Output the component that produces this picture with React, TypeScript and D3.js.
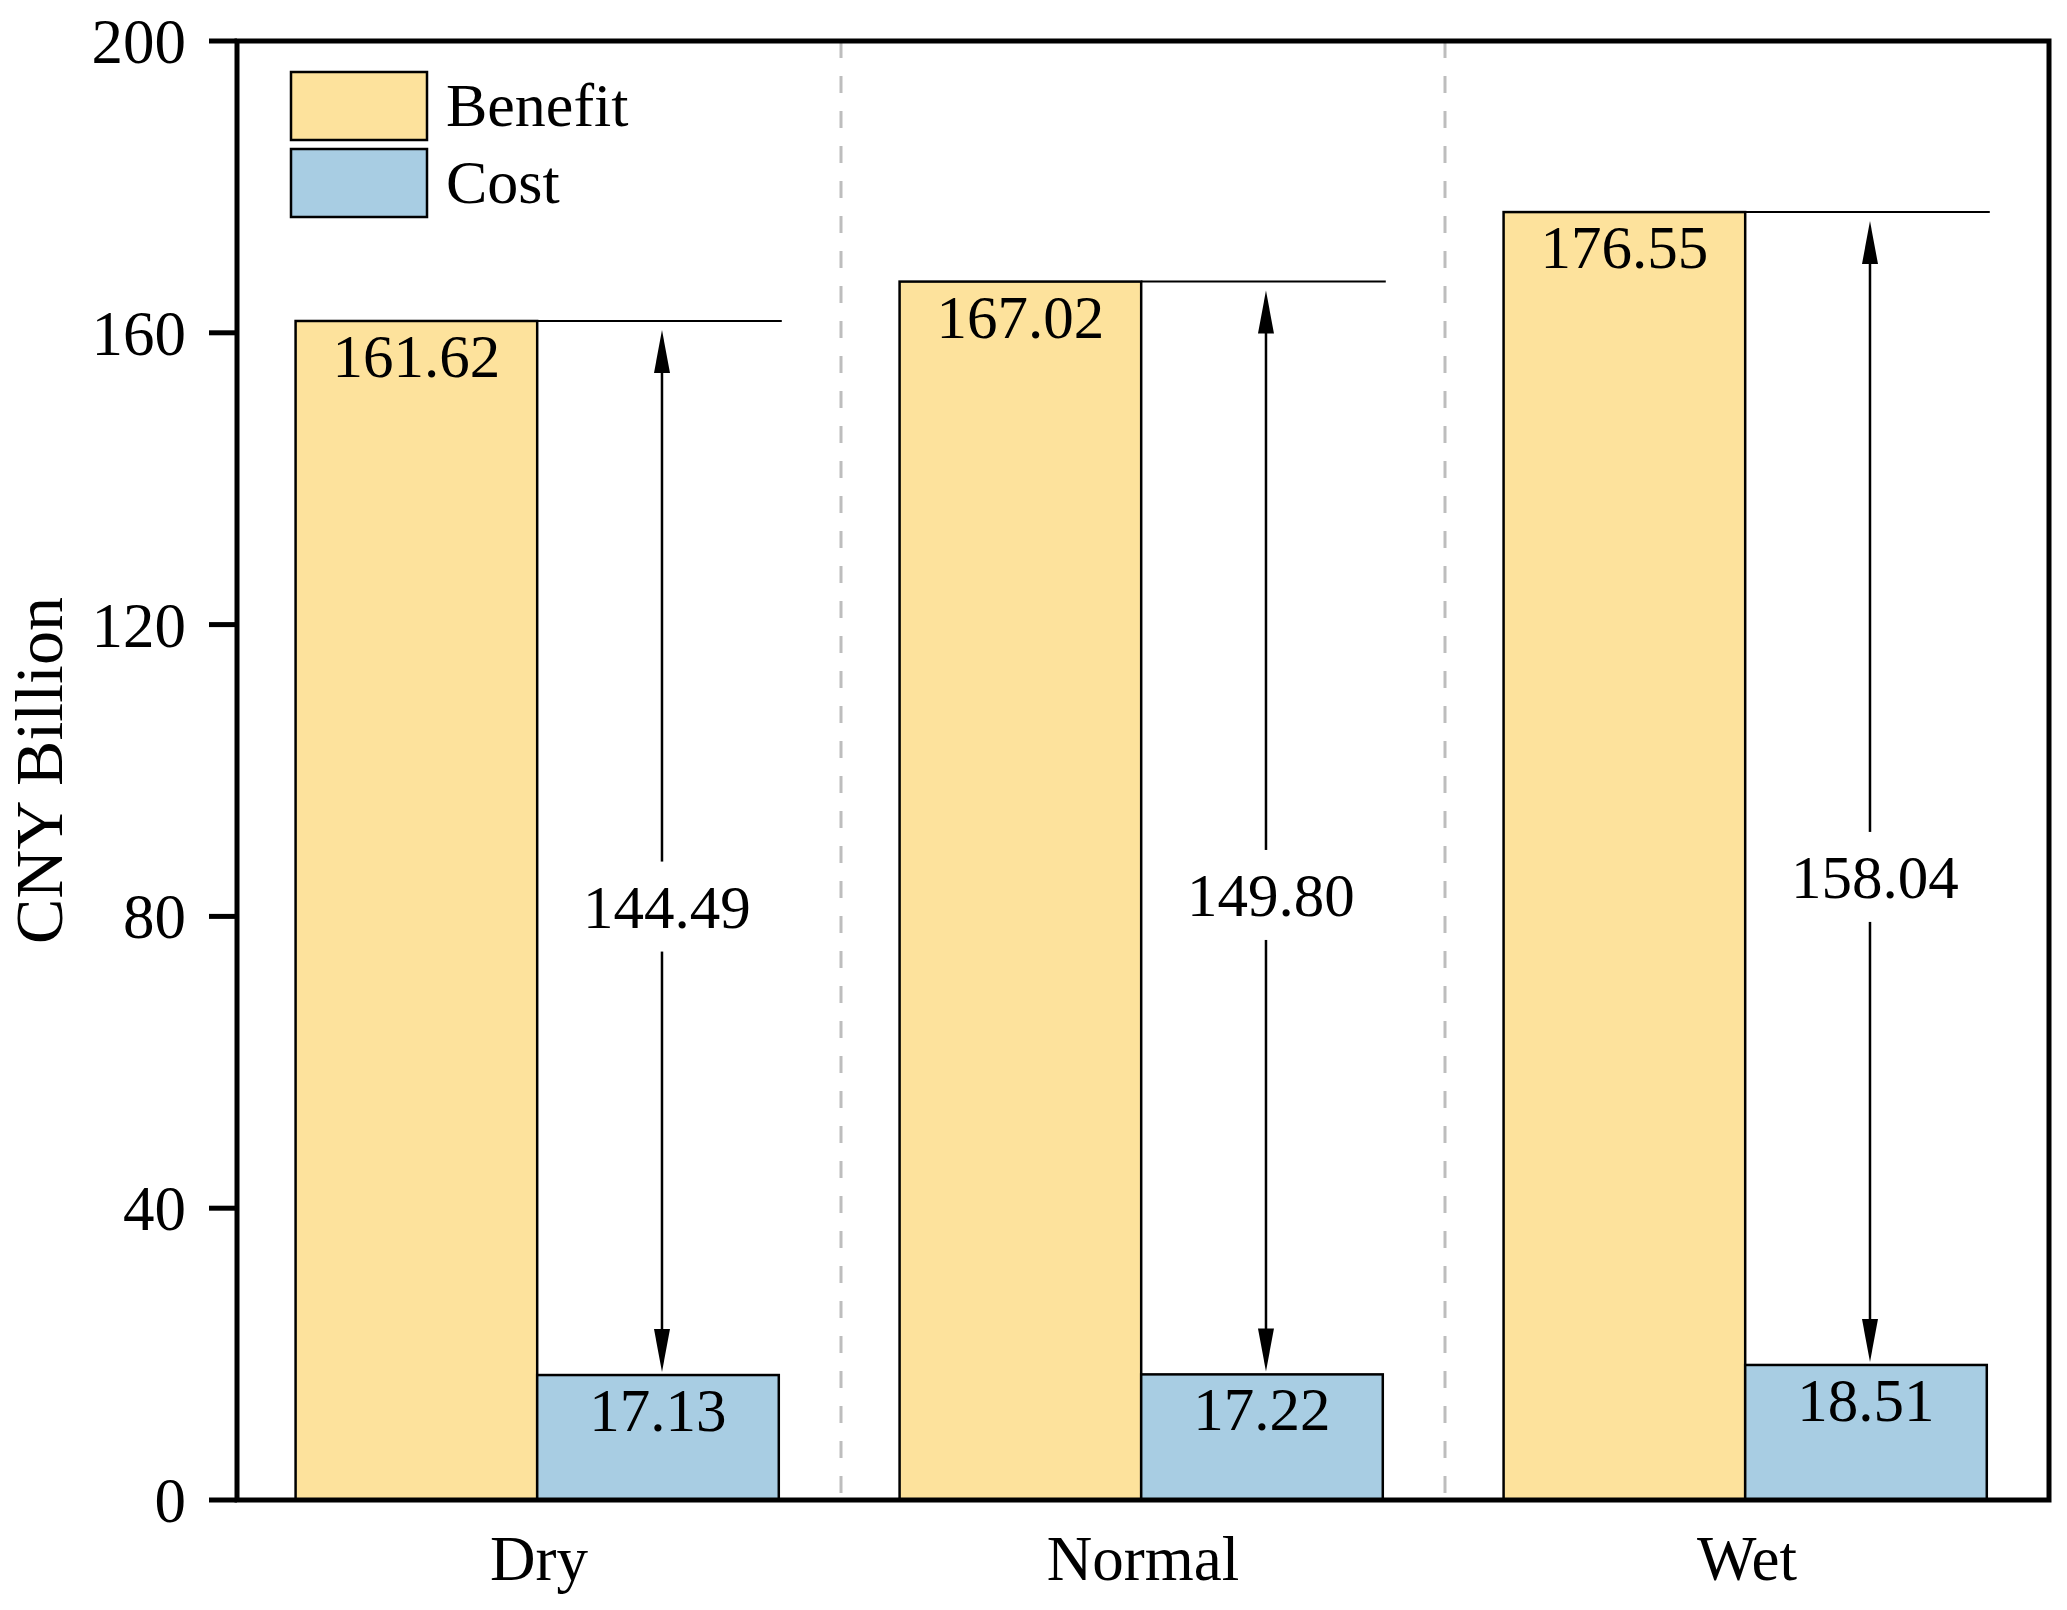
import React from 'react';
import { scaleBand, scaleLinear } from 'd3';

const categories = ['Dry', 'Normal', 'Wet'];
const series = ['Benefit', 'Cost'];
const benefit = [161.62, 167.02, 176.55];
const cost = [17.13, 17.22, 18.51];
const yTicks = [0, 40, 80, 120, 160, 200];

const colors: Record<string, string> = { Benefit: '#fde29c', Cost: '#a8cde3' };

const width = 2067;
const height = 1610;
const margin = { top: 41, right: 18, bottom: 110, left: 237 };
const innerWidth = width - margin.left - margin.right;
const innerHeight = height - margin.top - margin.bottom;
const font = '"Liberation Serif", "Times New Roman", serif';

function App() {
  const xScale = scaleBand().domain(categories).range([0, innerWidth]).padding(0);
  const bw = xScale.bandwidth();
  const sScale = scaleBand().domain(series).range([bw * 0.097, bw * 0.897]).padding(0);
  const yScale = scaleLinear().domain([0, 200]).range([innerHeight, 0]);

  return (
    <svg width={width} height={height} style={{ position: 'absolute', left: 0, top: 0, background: '#fff' }}>
      <g transform={`translate(${margin.left}, ${margin.top})`} fontFamily={font}>
        {/* group separators */}
        {categories.slice(1).map(c => (
          <line key={c} x1={xScale(c)!} x2={xScale(c)!} y1={0} y2={innerHeight}
            stroke="#bdbdbd" strokeWidth={3} strokeDasharray="17 18" />
        ))}

        {categories.map((c, i) => {
          const x0 = xScale(c)!;
          const bx = x0 + sScale('Benefit')!;
          const cx = x0 + sScale('Cost')!;
          const sw = sScale.bandwidth();
          const yB = yScale(benefit[i]);
          const yC = yScale(cost[i]);
          const ax = cx + sw / 2 + 4;
          const top = yB + 9;
          const bot = yC - 3;
          const diff = benefit[i] - cost[i];
          // label sits a bit below the middle of the arrow
          const ly = yScale(diff * 0.3 + 38);
          const head = 43;
          const hw = 8;
          return (
            <g key={c}>
              <rect x={bx} y={yB} width={sw} height={innerHeight - yB} fill={colors.Benefit} stroke="#000" strokeWidth={2.5} />
              <rect x={cx} y={yC} width={sw} height={innerHeight - yC} fill={colors.Cost} stroke="#000" strokeWidth={2.5} />
              <text x={bx + sw / 2} y={yB + 56} textAnchor="middle" fontSize={61}>{benefit[i].toFixed(2)}</text>
              <text x={cx + sw / 2} y={yC + 56} textAnchor="middle" fontSize={61}>{cost[i].toFixed(2)}</text>
              <line x1={bx + sw} x2={cx + sw + 3} y1={yB} y2={yB} stroke="#000" strokeWidth={2} />
              <line x1={ax} x2={ax} y1={top + head - 2} y2={bot - head + 2} stroke="#000" strokeWidth={2.5} />
              <path d={`M${ax},${top} L${ax - hw},${top + head} L${ax + hw},${top + head} Z`} fill="#000" />
              <path d={`M${ax},${bot} L${ax - hw},${bot - head} L${ax + hw},${bot - head} Z`} fill="#000" />
              <rect x={ax - 85} y={ly - 45} width={170} height={90} fill="#fff" />
              <text x={ax + 5} y={ly} dy="0.35em" textAnchor="middle" fontSize={61}>{diff.toFixed(2)}</text>
              <text x={x0 + bw / 2} y={innerHeight + 80} textAnchor="middle" fontSize={63}>{c}</text>
            </g>
          );
        })}

        {/* frame and y axis */}
        <rect x={0} y={0} width={innerWidth} height={innerHeight} fill="none" stroke="#000" strokeWidth={5} />
        {yTicks.map(t => (
          <g key={t} transform={`translate(0, ${yScale(t)})`}>
            <line x1={-28} x2={0} stroke="#000" strokeWidth={5} />
            <text x={-51} dy="0.35em" textAnchor="end" fontSize={63}>{t}</text>
          </g>
        ))}
        <text transform={`translate(${62 - margin.left}, ${innerHeight / 2}) rotate(-90)`} textAnchor="middle" fontSize={68}>CNY Billion</text>

        {/* legend */}
        {series.map((s, i) => (
          <g key={s} transform={`translate(${291 - margin.left}, ${72 - margin.top + i * 77})`}>
            <rect width={136} height={68} fill={colors[s]} stroke="#000" strokeWidth={2.5} />
            <text x={155} y={54} fontSize={62}>{s}</text>
          </g>
        ))}
      </g>
    </svg>
  );
}

export default App;
